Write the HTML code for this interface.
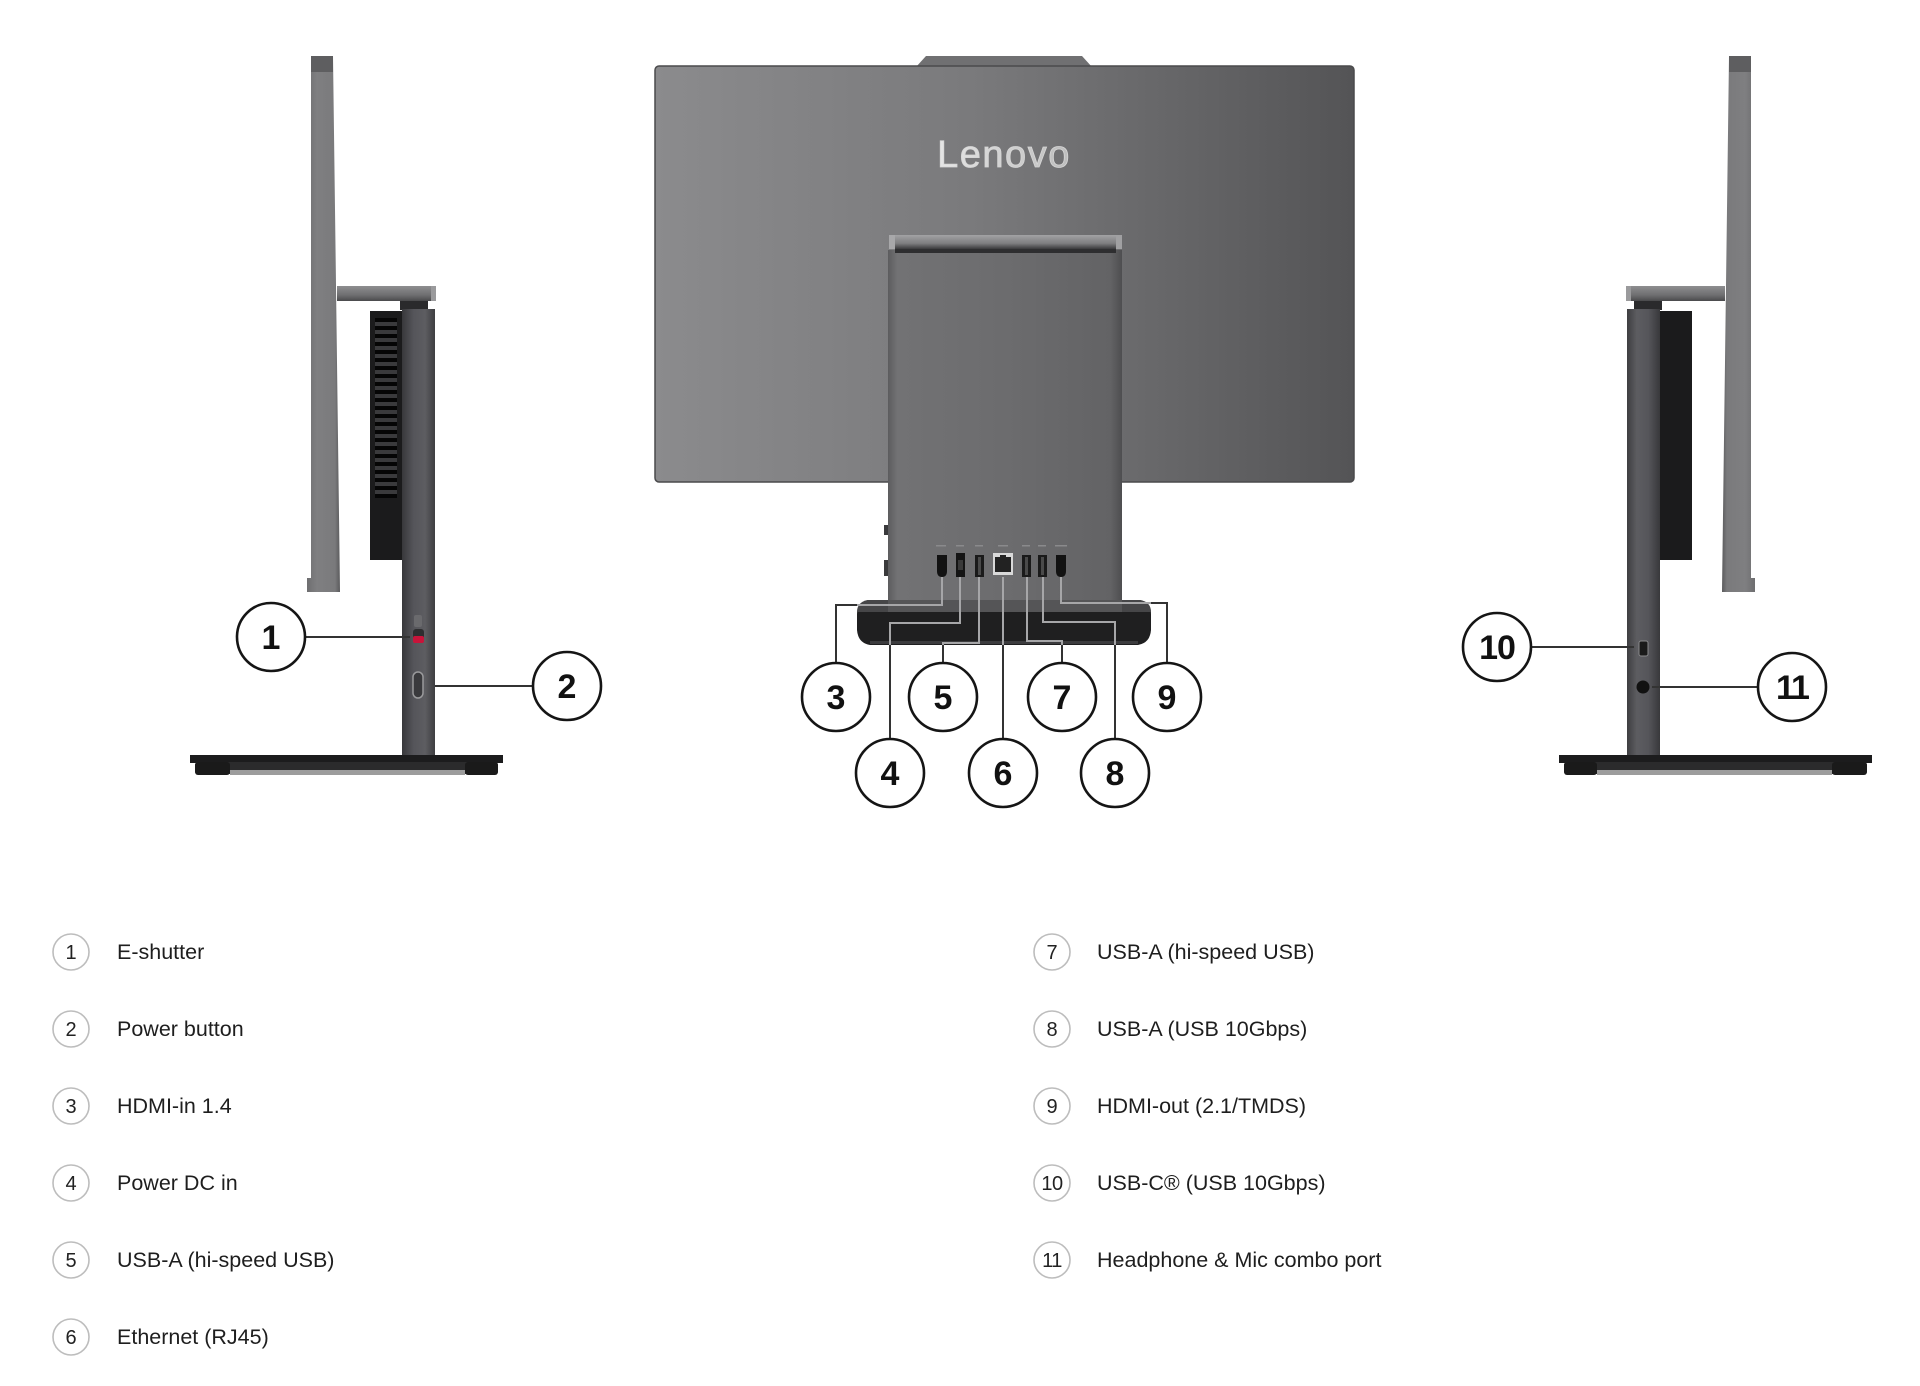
<!DOCTYPE html>
<html>
<head>
<meta charset="utf-8">
<style>
html,body{margin:0;padding:0;background:#fff;}
body{width:1920px;height:1386px;overflow:hidden;}
svg{display:block;}
</style>
</head>
<body>
<svg width="1920" height="1386" viewBox="0 0 1920 1386" xmlns="http://www.w3.org/2000/svg">
<defs>
  <linearGradient id="monG" x1="0" y1="0" x2="1" y2="0">
    <stop offset="0" stop-color="#8b8b8d"/>
    <stop offset="0.45" stop-color="#7a7a7c"/>
    <stop offset="1" stop-color="#545456"/>
  </linearGradient>
  <linearGradient id="colG" x1="0" y1="0" x2="1" y2="0">
    <stop offset="0" stop-color="#5c5c5e"/>
    <stop offset="0.04" stop-color="#727274"/>
    <stop offset="0.5" stop-color="#6c6c6e"/>
    <stop offset="0.95" stop-color="#636365"/>
    <stop offset="1" stop-color="#4e4e50"/>
  </linearGradient>
  <linearGradient id="capG" x1="0" y1="0" x2="0" y2="1">
    <stop offset="0" stop-color="#a2a2a4"/>
    <stop offset="0.6" stop-color="#7e7e80"/>
    <stop offset="1" stop-color="#3a3a3c"/>
  </linearGradient>
  <linearGradient id="sideCol" x1="0" y1="0" x2="1" y2="0">
    <stop offset="0" stop-color="#38383b"/>
    <stop offset="0.35" stop-color="#55555a"/>
    <stop offset="0.7" stop-color="#5d5d61"/>
    <stop offset="1" stop-color="#3e3e41"/>
  </linearGradient>
  <linearGradient id="panelG" x1="0" y1="0" x2="1" y2="0">
    <stop offset="0" stop-color="#6e6e70"/>
    <stop offset="0.3" stop-color="#7f7f81"/>
    <stop offset="0.85" stop-color="#7a7a7c"/>
    <stop offset="1" stop-color="#5a5a5c"/>
  </linearGradient>
  <linearGradient id="armG" x1="0" y1="0" x2="0" y2="1">
    <stop offset="0" stop-color="#8e8e90"/>
    <stop offset="0.6" stop-color="#6f6f71"/>
    <stop offset="1" stop-color="#4a4a4c"/>
  </linearGradient>
  <linearGradient id="logoG" x1="0" y1="0" x2="1" y2="0">
    <stop offset="0" stop-color="#e6e6e6"/>
    <stop offset="1" stop-color="#bdbdbd"/>
  </linearGradient>
  <clipPath id="devClip">
    <rect x="888" y="482" width="234" height="128"/>
    <rect x="857" y="600" width="294" height="45"/>
  </clipPath>

  <g id="sideView">
    <polygon points="311,56 333,56 340,592 307,592 307,578 311,578" fill="url(#panelG)"/>
    <rect x="311" y="56" width="22" height="16" fill="#5e5e60"/>
    <rect x="337" y="286" width="99" height="15" fill="url(#armG)"/>
    <rect x="431" y="286" width="5" height="15" fill="#9a9a9c"/>
    <rect x="400" y="301" width="28" height="9" fill="#2a2a2c"/>
    <rect x="370" y="311" width="32" height="249" fill="#1b1b1c"/>
    <rect x="402" y="309" width="33" height="447" fill="url(#sideCol)"/>
    <rect x="190" y="755" width="313" height="8" fill="#1c1c1d"/>
    <rect x="195" y="762" width="303" height="12" rx="3" fill="#2b2b2c"/>
    <rect x="230" y="770" width="235" height="5" fill="#9c9c9c"/>
    <rect x="195" y="762" width="35" height="13" rx="3" fill="#1a1a1a"/>
    <rect x="465" y="762" width="33" height="13" rx="3" fill="#1a1a1a"/>
  </g>
</defs>

<rect width="1920" height="1386" fill="#fff"/>

<!-- LEFT SIDE VIEW -->
<use href="#sideView"/>
<g fill="#050505">
  <rect x="375" y="318" width="22" height="4"/><rect x="375" y="326" width="22" height="4"/>
  <rect x="375" y="334" width="22" height="4"/><rect x="375" y="342" width="22" height="4"/>
  <rect x="375" y="350" width="22" height="4"/><rect x="375" y="358" width="22" height="4"/>
  <rect x="375" y="366" width="22" height="4"/><rect x="375" y="374" width="22" height="4"/>
  <rect x="375" y="382" width="22" height="4"/><rect x="375" y="390" width="22" height="4"/>
  <rect x="375" y="398" width="22" height="4"/><rect x="375" y="406" width="22" height="4"/>
  <rect x="375" y="414" width="22" height="4"/><rect x="375" y="422" width="22" height="4"/>
  <rect x="375" y="430" width="22" height="4"/><rect x="375" y="438" width="22" height="4"/>
  <rect x="375" y="446" width="22" height="4"/><rect x="375" y="454" width="22" height="4"/>
  <rect x="375" y="462" width="22" height="4"/><rect x="375" y="470" width="22" height="4"/>
  <rect x="375" y="478" width="22" height="4"/><rect x="375" y="486" width="22" height="4"/>
  <rect x="375" y="494" width="22" height="4"/>
</g>
<g fill="#3a3a3c">
  <rect x="375" y="322" width="22" height="4"/><rect x="375" y="330" width="22" height="4"/>
  <rect x="375" y="338" width="22" height="4"/><rect x="375" y="346" width="22" height="4"/>
  <rect x="375" y="354" width="22" height="4"/><rect x="375" y="362" width="22" height="4"/>
  <rect x="375" y="370" width="22" height="4"/><rect x="375" y="378" width="22" height="4"/>
  <rect x="375" y="386" width="22" height="4"/><rect x="375" y="394" width="22" height="4"/>
  <rect x="375" y="402" width="22" height="4"/><rect x="375" y="410" width="22" height="4"/>
  <rect x="375" y="418" width="22" height="4"/><rect x="375" y="426" width="22" height="4"/>
  <rect x="375" y="434" width="22" height="4"/><rect x="375" y="442" width="22" height="4"/>
  <rect x="375" y="450" width="22" height="4"/><rect x="375" y="458" width="22" height="4"/>
  <rect x="375" y="466" width="22" height="4"/><rect x="375" y="474" width="22" height="4"/>
  <rect x="375" y="482" width="22" height="4"/><rect x="375" y="490" width="22" height="4"/>
</g>
<rect x="414" y="615" width="8" height="12" rx="2" fill="#6a6a6d"/>
<rect x="413" y="629" width="11" height="14" rx="3" fill="#2e2e30"/>
<rect x="413" y="636" width="11" height="7" rx="2" fill="#c8143a"/>
<rect x="413" y="672" width="10" height="26" rx="5" fill="#3a3a3d" stroke="#9a9a9c" stroke-width="1.5"/>
<line x1="305" y1="637" x2="410" y2="637" stroke="#333" stroke-width="2"/>
<line x1="435" y1="686" x2="533" y2="686" stroke="#333" stroke-width="2"/>

<!-- RIGHT SIDE VIEW -->
<g transform="translate(2062,0) scale(-1,1)">
  <use href="#sideView"/>
</g>
<rect x="1639" y="641" width="9" height="15" rx="2" fill="#1a1a1a" stroke="#8a8a8c" stroke-width="1"/>
<circle cx="1643" cy="687" r="6.5" fill="#111"/>
<line x1="1532" y1="647" x2="1634" y2="647" stroke="#333" stroke-width="2"/>
<line x1="1652" y1="687" x2="1758" y2="687" stroke="#333" stroke-width="2"/>

<!-- CENTER BACK VIEW -->
<polygon points="916,67 926,56 1082,56 1092,67" fill="#707072"/>
<rect x="655" y="66" width="699" height="416" rx="4" fill="url(#monG)"/>
<rect x="655" y="66" width="699" height="416" rx="4" fill="none" stroke="#4a4a4c" stroke-width="1.5"/>
<text x="1004" y="167" text-anchor="middle" font-family="'Liberation Sans', 'DejaVu Sans', sans-serif" font-size="38" fill="url(#logoG)" stroke="#d6d6d6" stroke-width="0.8" letter-spacing="1.5">Lenovo</text>
<rect x="888" y="250" width="234" height="362" fill="url(#colG)"/>
<rect x="889" y="235" width="233" height="14" rx="2" fill="url(#capG)"/>
<rect x="889" y="235" width="6" height="14" fill="#a8a8aa"/>
<rect x="1116" y="235" width="6" height="14" fill="#a0a0a2"/>
<rect x="895" y="249" width="221" height="4" fill="#2e2e30"/>
<rect x="884" y="525" width="4" height="10" fill="#3a3a3c"/>
<rect x="884" y="560" width="4" height="16" fill="#3a3a3c"/>
<path d="M868,600 L1140,600 Q1151,602 1151,614 L1151,630 Q1150,643 1138,645 L870,645 Q858,643 857,630 L857,614 Q857,602 868,600 Z" fill="#1f1f20"/>
<path d="M868,600 L1140,600 Q1151,602 1151,612 L857,612 Q857,602 868,600 Z" fill="#464648"/>
<rect x="888" y="600" width="234" height="12" fill="#555557"/>
<rect x="870" y="641" width="268" height="3" fill="#3c3c3e"/>
<g fill="#8a8a8c">
  <rect x="936" y="545" width="10" height="1.5"/><rect x="956" y="545" width="8" height="1.5"/>
  <rect x="975" y="545" width="8" height="1.5"/><rect x="998" y="545" width="10" height="1.5"/>
  <rect x="1022" y="545" width="8" height="1.5"/><rect x="1038" y="545" width="8" height="1.5"/>
  <rect x="1055" y="545" width="12" height="1.5"/>
</g>
<path d="M937,555 L947,555 L947,571 Q947,577 942,577 Q937,577 937,571 Z" fill="#121212"/>
<rect x="956" y="553" width="9" height="24" fill="#141414"/>
<rect x="958" y="560" width="5" height="10" fill="#3a3a3a"/>
<rect x="975" y="555" width="9" height="22" fill="#1a1a1a"/>
<rect x="978" y="557" width="3" height="18" fill="#4a4a4a"/>
<rect x="993" y="553" width="20" height="22" fill="#d9d9d9"/>
<rect x="995" y="557" width="16" height="15" fill="#222"/>
<rect x="1000" y="555" width="6" height="4" fill="#222"/>
<rect x="1022" y="555" width="9" height="22" fill="#1a1a1a"/>
<rect x="1025" y="557" width="3" height="18" fill="#4a4a4a"/>
<rect x="1038" y="555" width="9" height="22" fill="#1a1a1a"/>
<rect x="1041" y="557" width="3" height="18" fill="#4a4a4a"/>
<path d="M1056,555 L1066,555 L1066,571 Q1066,577 1061,577 Q1056,577 1056,571 Z" fill="#121212"/>

<g fill="none" stroke="#333" stroke-width="2">
  <path d="M942,577 V605 H836 V663"/>
  <path d="M960,577 V623 H890 V739"/>
  <path d="M979,577 V643 H943 V663"/>
  <path d="M1003,577 V739"/>
  <path d="M1027,577 V641 H1062 V663"/>
  <path d="M1043,577 V622 H1115 V739"/>
  <path d="M1061,577 V603 H1167 V663"/>
</g>
<g fill="none" stroke="#a6a6a8" stroke-width="2" clip-path="url(#devClip)">
  <path d="M942,577 V605 H836 V663"/>
  <path d="M960,577 V623 H890 V739"/>
  <path d="M979,577 V643 H943 V663"/>
  <path d="M1003,577 V739"/>
  <path d="M1027,577 V641 H1062 V663"/>
  <path d="M1043,577 V622 H1115 V739"/>
  <path d="M1061,577 V603 H1167 V663"/>
</g>

<!-- CALLOUT CIRCLES -->
<g fill="#fff" stroke="#151515" stroke-width="2.6">
  <circle cx="271" cy="637" r="34"/>
  <circle cx="567" cy="686" r="34"/>
  <circle cx="836" cy="697" r="34"/>
  <circle cx="890" cy="773" r="34"/>
  <circle cx="943" cy="697" r="34"/>
  <circle cx="1003" cy="773" r="34"/>
  <circle cx="1062" cy="697" r="34"/>
  <circle cx="1115" cy="773" r="34"/>
  <circle cx="1167" cy="697" r="34"/>
  <circle cx="1497" cy="647" r="34"/>
  <circle cx="1792" cy="687" r="34"/>
</g>
<g font-family="'Liberation Sans', 'DejaVu Sans', sans-serif" font-size="34" font-weight="bold" fill="#111" text-anchor="middle">
  <text x="271" y="649">1</text>
  <text x="567" y="698">2</text>
  <text x="836" y="709">3</text>
  <text x="890" y="785">4</text>
  <text x="943" y="709">5</text>
  <text x="1003" y="785">6</text>
  <text x="1062" y="709">7</text>
  <text x="1115" y="785">8</text>
  <text x="1167" y="709">9</text>
  <text x="1497" y="659" letter-spacing="-1">10</text>
  <text x="1792" y="699" letter-spacing="-2">11</text>
</g>

<!-- LEGEND -->
<g fill="#fff" stroke="#bdbdbd" stroke-width="1.6">
  <circle cx="71" cy="952" r="18"/>
  <circle cx="71" cy="1029" r="18"/>
  <circle cx="71" cy="1106" r="18"/>
  <circle cx="71" cy="1183" r="18"/>
  <circle cx="71" cy="1260" r="18"/>
  <circle cx="71" cy="1337" r="18"/>
  <circle cx="1052" cy="952" r="18"/>
  <circle cx="1052" cy="1029" r="18"/>
  <circle cx="1052" cy="1106" r="18"/>
  <circle cx="1052" cy="1183" r="18"/>
  <circle cx="1052" cy="1260" r="18"/>
</g>
<g font-family="'Liberation Sans', 'DejaVu Sans', sans-serif" font-size="20" fill="#222" text-anchor="middle">
  <text x="71" y="959">1</text>
  <text x="71" y="1036">2</text>
  <text x="71" y="1113">3</text>
  <text x="71" y="1190">4</text>
  <text x="71" y="1267">5</text>
  <text x="71" y="1344">6</text>
  <text x="1052" y="959">7</text>
  <text x="1052" y="1036">8</text>
  <text x="1052" y="1113">9</text>
  <text x="1052" y="1190" letter-spacing="-0.5">10</text>
  <text x="1052" y="1267" letter-spacing="-0.5">11</text>
</g>
<g font-family="'Liberation Sans', 'DejaVu Sans', sans-serif" font-size="21.5" fill="#1e1e1e">
  <text x="117" y="959">E-shutter</text>
  <text x="117" y="1036">Power button</text>
  <text x="117" y="1113">HDMI-in 1.4</text>
  <text x="117" y="1190">Power DC in</text>
  <text x="117" y="1267">USB-A (hi-speed USB)</text>
  <text x="117" y="1344">Ethernet (RJ45)</text>
  <text x="1097" y="959">USB-A (hi-speed USB)</text>
  <text x="1097" y="1036">USB-A (USB 10Gbps)</text>
  <text x="1097" y="1113">HDMI-out (2.1/TMDS)</text>
  <text x="1097" y="1190">USB-C® (USB 10Gbps)</text>
  <text x="1097" y="1267">Headphone &amp; Mic combo port</text>
</g>
</svg>
</body>
</html>
